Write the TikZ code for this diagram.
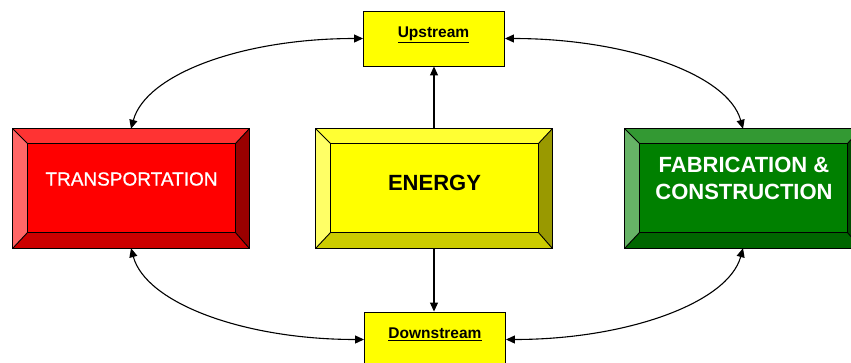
\documentclass[tikz,border=0pt]{standalone}
\usepackage{fontspec}
\setmainfont{Liberation Sans}
\newfontfamily\semibf[FakeBold=0.9]{Liberation Sans}
\usetikzlibrary{calc,arrows.meta}
\definecolor{rface}{HTML}{FF0000}
\definecolor{rtop}{HTML}{FF3333}
\definecolor{rleft}{HTML}{FF6666}
\definecolor{rbot}{HTML}{CC0000}
\definecolor{rright}{HTML}{990000}
\definecolor{yface}{HTML}{FFFF00}
\definecolor{ytop}{HTML}{FFFF33}
\definecolor{yleft}{HTML}{FFFF66}
\definecolor{ybot}{HTML}{CCCC00}
\definecolor{yright}{HTML}{999900}
\definecolor{gface}{HTML}{008000}
\definecolor{gtop}{HTML}{339933}
\definecolor{gleft}{HTML}{66B366}
\definecolor{gbot}{HTML}{006600}
\definecolor{gright}{HTML}{004D00}
\tikzset{
  outl/.style={draw=black, line width=0.9pt},
  bigbox/.style={minimum width=236pt, minimum height=119pt, inner sep=0pt},
  smallbox/.style={draw=black, line width=0.9pt, fill=yface, minimum width=141pt, minimum height=55pt, inner sep=0pt},
  smalltxt/.style={font=\fontsize{15.5}{18}\selectfont\bfseries, inner sep=0pt},
  arr/.style={line width=1.1pt, -{Triangle[length=9pt,width=8pt]}},
  darr/.style={line width=1.1pt, {Triangle[length=9pt,width=8pt]}-{Triangle[length=9pt,width=8pt]}},
}
\newcommand\bevelbox[6]{%
  \coordinate (#1-o1) at (#1.north west);
  \coordinate (#1-o2) at (#1.north east);
  \coordinate (#1-o3) at (#1.south east);
  \coordinate (#1-o4) at (#1.south west);
  \coordinate (#1-i1) at ($(#1.north west)+(15,15)$);
  \coordinate (#1-i2) at ($(#1.north east)+(-14,15)$);
  \coordinate (#1-i3) at ($(#1.south east)+(-14,-16)$);
  \coordinate (#1-i4) at ($(#1.south west)+(15,-16)$);
  \fill[#3] (#1-o1)--(#1-o2)--(#1-i2)--(#1-i1)--cycle;
  \fill[#4] (#1-o1)--(#1-i1)--(#1-i4)--(#1-o4)--cycle;
  \fill[#5] (#1-o4)--(#1-i4)--(#1-i3)--(#1-o3)--cycle;
  \fill[#6] (#1-o2)--(#1-o3)--(#1-i3)--(#1-i2)--cycle;
  \draw[outl, fill=#2] (#1-i1) rectangle (#1-i3);
  \draw[outl] (#1-o1)--(#1-i1) (#1-o2)--(#1-i2) (#1-o3)--(#1-i3) (#1-o4)--(#1-i4);
  \draw[outl] (#1-o1) rectangle (#1-o3);
}
\begin{document}
\begin{tikzpicture}[x=1pt, y=-1pt]
  \useasboundingbox (0,0) rectangle (851,362);
  \clip (0,0) rectangle (851,362);
  \fill[white] (0,0) rectangle (851,362);
  % big boxes
  \node[bigbox] (T) at (131,188.5) {};
  \node[bigbox] (E) at (434,188.5) {};
  \node[bigbox] (F) at (743,188.5) {};
  \bevelbox{T}{rface}{rtop}{rleft}{rbot}{rright}
  \bevelbox{E}{yface}{ytop}{yleft}{ybot}{yright}
  \bevelbox{F}{gface}{gtop}{gleft}{gbot}{gright}
  \node[text=white, font=\semibf\fontsize{19}{22}\selectfont, inner sep=0pt] (Tt) at (131.5,179) {TRANSPORTATION};
  \node[text=black, font=\fontsize{22}{26}\selectfont\bfseries, inner sep=0pt] (Et) at (434.5,183) {ENERGY};
  \node[text=white, font=\fontsize{22}{27}\selectfont\bfseries, align=center, inner sep=0pt] (Ft) at (744,178.5) {FABRICATION \&\\CONSTRUCTION};
  % small boxes
  \node[smallbox] (U) at (434,38.5) {};
  \node[smallbox] (D) at (435,339.5) {};
  \node[smalltxt] (Ut) at (433.5,34.5) {\underline{Upstream}};
  \node[smalltxt] (Dt) at (435,334.5) {\underline{Downstream}};
  % connectors
  \draw[arr] (E.north) -- (U.south -| E.north);
  \draw[arr] (E.south) -- (D.north -| E.south);
  \draw[darr] (U.west) .. controls +(-120,0) and +(15,-55) .. (T.north);
  \draw[darr] (U.east) .. controls +(120,0) and +(-15,-55) .. (F.north);
  \draw[darr] (T.south) .. controls +(15,55) and +(-120,0) .. (D.west);
  \draw[darr] (F.south) .. controls +(-15,55) and +(120,0) .. (D.east);
\end{tikzpicture}
\end{document}
